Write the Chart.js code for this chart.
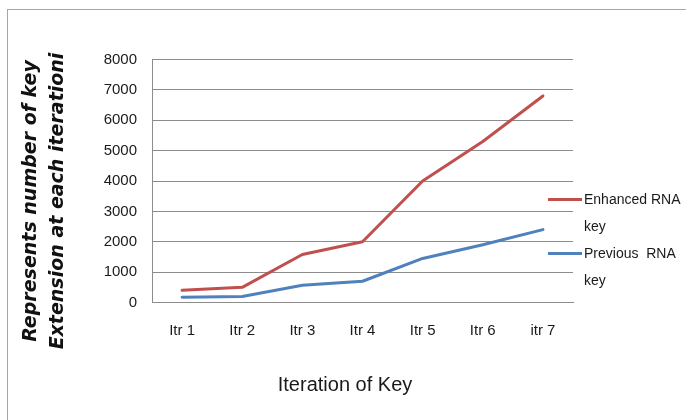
<!DOCTYPE html>
<html>
<head>
<meta charset="utf-8">
<script src="https://cdn.jsdelivr.net/npm/chart.js@4.4.0/dist/chart.umd.min.js"></script>
<style>
  html, body { margin: 0; padding: 0; background: #fff; overflow: hidden; }
  #wrap { position: relative; width: 686px; height: 420px; overflow: hidden; }
  #frame { position: absolute; left: 7px; top: 9px; width: 700px; height: 430px;
           border: 1px solid #a6a6a6; box-sizing: border-box; }
  #chart { position: absolute; left: 0; top: 0; }
  #legend { position: absolute; left: 548px; top: 186px;
            font: 14px "Liberation Sans", Arial, sans-serif; color: #1a1a1a; }
  .item { position: relative; padding-left: 36px; width: 102px; line-height: 27px; white-space: pre-wrap; }
  .swatch { position: absolute; left: 0; top: 12px; width: 34px; height: 3px; }
</style>
</head>
<body>
<div id="wrap">
  <div id="frame"></div>
  <canvas id="chart" width="686" height="420"></canvas>
  <div id="legend"></div>
</div>
<script>
// Iterations on the x axis
const iterations = ['Itr 1', 'Itr 2', 'Itr 3', 'Itr 4', 'Itr 5', 'Itr 6', 'itr 7'];
// Number of key extensions per iteration
const enhancedKey = [400, 500, 1580, 2000, 4000, 5300, 6800];
const previousKey = [170, 200, 570, 700, 1450, 1900, 2400];
// Series names
const seriesNames = ['Enhanced RNA key', 'Previous  RNA key'];
// Axis titles
const xTitle = 'Iteration of Key';
const yTitleLines = ['Represents number of key', 'Extension at each iterationi'];

const tickFont = { family: '"Liberation Sans", Arial, sans-serif', size: 15 };

// Two-line rotated title beside the value axis
const yTitlePlugin = {
  id: 'yTitle',
  afterDraw(chart, args, opts) {
    const ctx = chart.ctx;
    ctx.save();
    ctx.font = opts.font;
    ctx.fillStyle = opts.color;
    ctx.textAlign = 'center';
    ctx.textBaseline = 'middle';
    opts.lines.forEach((line, i) => {
      ctx.save();
      ctx.translate(opts.x + i * opts.lineGap, opts.y);
      ctx.rotate(-Math.PI / 2);
      ctx.fillText(line, 0, 0);
      ctx.restore();
    });
    ctx.restore();
  }
};

const chart = new Chart(document.getElementById('chart'), {
  type: 'line',
  data: {
    labels: iterations,
    datasets: [
      { label: seriesNames[0], data: enhancedKey, borderColor: '#c0504d', backgroundColor: '#c0504d' },
      { label: seriesNames[1], data: previousKey, borderColor: '#4f81bd', backgroundColor: '#4f81bd' }
    ]
  },
  options: {
    responsive: false,
    animation: false,
    layout: { padding: { left: 4, right: 0, top: 59.5, bottom: 0 } },
    elements: {
      line: { borderWidth: 3, tension: 0, borderCapStyle: 'round', borderJoinStyle: 'round' },
      point: { radius: 0, hoverRadius: 0 }
    },
    scales: {
      x: {
        offset: true,
        grid: { display: false, drawTicks: false },
        border: { display: true, color: '#8c8c8c', width: 1 },
        ticks: { color: '#1a1a1a', font: tickFont, padding: 19, maxRotation: 0 },
        afterFit(scale) { scale.height = 60.5; }
      },
      y: {
        min: 0, max: 8000,
        grid: { color: '#8c8c8c', lineWidth: 1, drawTicks: false },
        border: { display: true, color: '#8c8c8c', width: 1 },
        ticks: { stepSize: 1000, color: '#1a1a1a', font: tickFont, padding: 15,
                 format: { useGrouping: false } },
        afterFit(scale) { scale.width = 148; }
      },
      // empty right-hand axis that reserves room for the legend
      yLegendSpace: {
        position: 'right',
        grid: { display: false, drawTicks: false },
        border: { display: false },
        ticks: { display: false },
        afterFit(scale) { scale.width = 113; }
      }
    },
    plugins: {
      legend: { display: false },
      tooltip: { enabled: false },
      title: {
        display: true,
        position: 'bottom',
        text: xTitle,
        color: '#1a1a1a',
        font: { family: '"Liberation Sans", Arial, sans-serif', size: 20, weight: 'normal', lineHeight: 1.2 },
        padding: { top: 10, bottom: 23 }
      },
      yTitle: {
        lines: yTitleLines,
        font: 'italic bold 19px "DejaVu Sans", sans-serif',
        color: '#111',
        x: 31, y: 201, lineGap: 27
      }
    }
  },
  plugins: [yTitlePlugin]
});

// Legend beside the plot, labels wrapping onto a second line
const legendEl = document.getElementById('legend');
chart.data.datasets.forEach(ds => {
  const item = document.createElement('div');
  item.className = 'item';
  const sw = document.createElement('span');
  sw.className = 'swatch';
  sw.style.background = ds.borderColor;
  item.appendChild(sw);
  item.appendChild(document.createTextNode(ds.label));
  legendEl.appendChild(item);
});
</script>
</body>
</html>
